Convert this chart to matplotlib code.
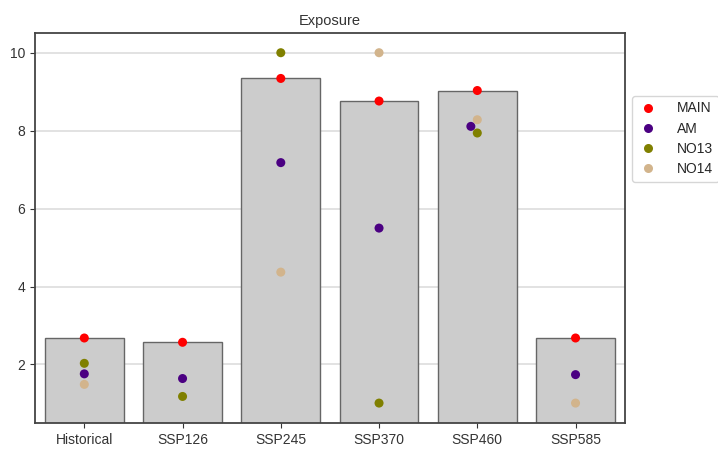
import numpy as np
import pandas as pd
import seaborn as sns
import matplotlib.pyplot as plt

scenarios = ['Historical', 'SSP126', 'SSP245', 'SSP370', 'SSP460', 'SSP585']
models = ['MAIN', 'AM', 'NO13', 'NO14']
colors = ['red', 'indigo', 'olive', 'tan']

bar_values = [2.68, 2.57, 9.34, 8.76, 9.03, 2.68]
main_vals = [2.68, 2.57, 9.34, 8.76, 9.03, 2.68]
am_vals = [1.76, 1.64, 7.18, 5.50, 8.11, 1.74]
no13_vals = [2.03, 1.18, 10.0, 1.01, 7.94, np.nan]
no14_vals = [1.49, np.nan, 4.37, 10.0, 8.28, 1.01]

sns.set_style('ticks')
plt.rcParams['font.family'] = ['Liberation Sans', 'DejaVu Sans']

rows = []
for name, vals in zip(models, [main_vals, am_vals, no13_vals, no14_vals]):
    for sc, v in zip(scenarios, vals):
        rows.append({'scenario': sc, 'model': name, 'value': v})
df = pd.DataFrame(rows).dropna()

fig, ax = plt.subplots(figsize=(7.18, 4.49), dpi=100)
fig.subplots_adjust(left=0.049, right=0.870, top=0.926, bottom=0.058)

ax.yaxis.grid(True, color='#dddddd', linewidth=1.2, zorder=0)
ax.set_axisbelow(True)
ax.bar(scenarios, bar_values, width=0.8, color='#cccccc',
       edgecolor='#666666', linewidth=1.0, zorder=2)
sns.swarmplot(data=df, x='scenario', y='value', hue='model', order=scenarios,
              hue_order=models, palette=colors, size=6.5, ax=ax, zorder=3)

ax.set_xlim(-0.5, 5.5)
ax.set_ylim(0.5, 10.5)
ax.set_yticks([2, 4, 6, 8, 10])
ax.set_xlabel('')
ax.set_ylabel('')
ax.set_title('Exposure', fontsize=10.5, color='#333333')
ax.tick_params(labelsize=10, colors='#333333')
for sp in ax.spines.values():
    sp.set_color('#444444')
    sp.set_linewidth(1.3)

ax.legend(loc='upper left', bbox_to_anchor=(1.005, 0.85), fontsize=10,
          frameon=True, borderaxespad=0.3, handletextpad=1.25,
          handlelength=1.6, borderpad=0.4, labelspacing=0.45)

fig.savefig('out.png', dpi=100)
